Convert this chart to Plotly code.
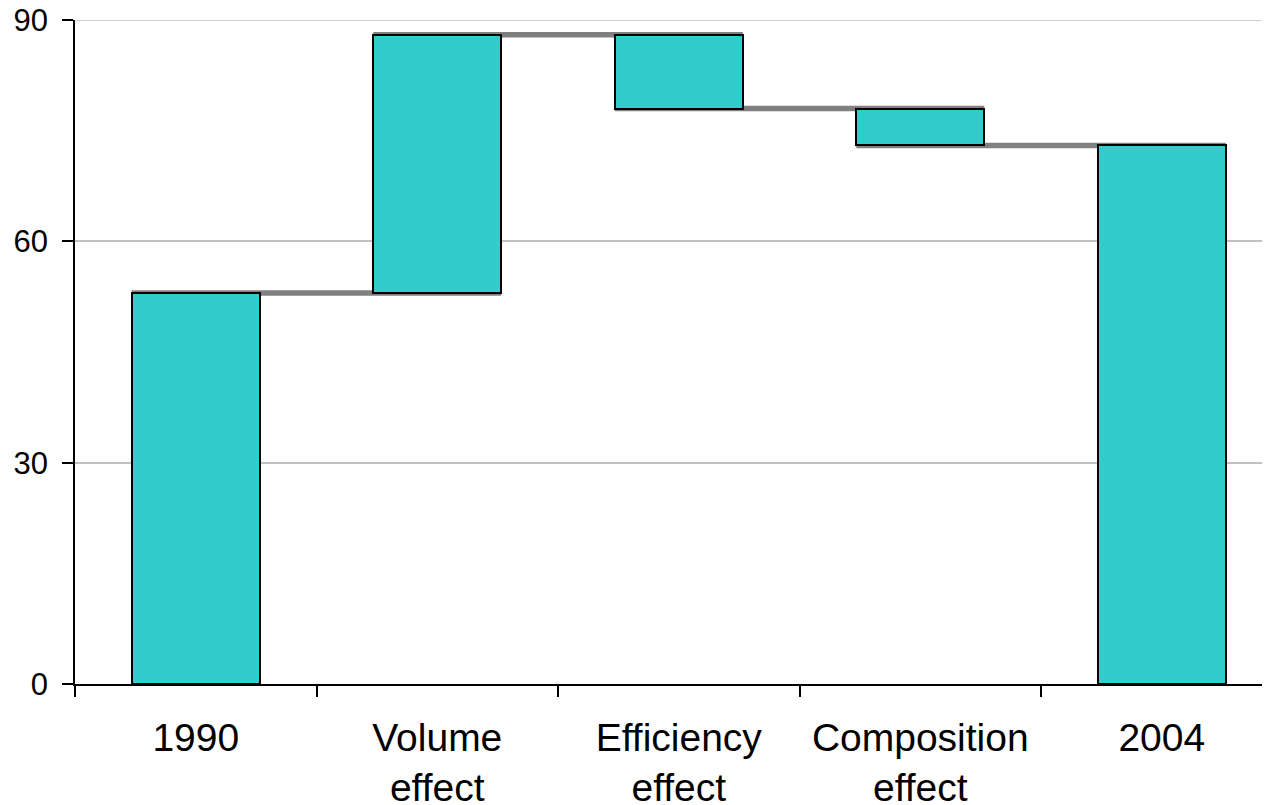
import plotly.graph_objects as go

categories = ["1990", "Volume effect", "Efficiency effect", "Composition effect", "2004"]
tick_labels = ["1990", "Volume<br>effect", "Efficiency<br>effect", "Composition<br>effect", "2004"]
values = [53, 35, -10, -5, 73]
measures = ["absolute", "relative", "relative", "relative", "total"]
y_ticks = [0, 30, 60, 90]

# compute bar bases / heights and running levels
bases, heights, levels = [], [], []
running = 0
for v, m in zip(values, measures):
    if m == "absolute" or m == "total":
        bases.append(0)
        heights.append(v)
        running = v
    else:
        start = running
        running = running + v
        bases.append(min(start, running))
        heights.append(abs(v))
    levels.append(running)

BAR_W = 0.53
FILL = "#33CCCC"
GRID = "#C0C0C0"

fig = go.Figure()
fig.add_trace(go.Bar(
    x=categories, y=heights, base=bases, width=BAR_W,
    marker=dict(color=FILL, line=dict(color="black", width=2)),
    showlegend=False, hoverinfo="skip",
))

# top gridline (plotly clips gridlines at the very end of the range)
fig.add_shape(
    type="line", xref="paper", yref="y", layer="below",
    x0=0, x1=1, y0=y_ticks[-1], y1=y_ticks[-1],
    line=dict(color=GRID, width=1.5),
)

# connectors: from left edge of bar i to right edge of bar i+1 at running level
for i in range(len(categories) - 1):
    fig.add_shape(
        type="line", xref="x", yref="y", layer="between",
        x0=i - BAR_W / 2, x1=i + 1 + BAR_W / 2,
        y0=levels[i], y1=levels[i],
        line=dict(color="#808080", width=5.5),
    )

FONT = "Liberation Sans, Arial, sans-serif"
fig.update_layout(
    width=1270, height=805,
    margin=dict(l=67, r=8, t=12, b=129),
    paper_bgcolor="white", plot_bgcolor="white",
    font=dict(family=FONT, color="black"),
    bargap=0,
    xaxis=dict(
        type="category", tickson="boundaries",
        tickmode="array", tickvals=categories, ticktext=tick_labels,
        range=[-0.5, 4.448], automargin=False,
        showline=True, linecolor="black", linewidth=1.5,
        ticks="outside", ticklen=11, tickwidth=1.5, tickcolor="black",
        tickfont=dict(size=39, family=FONT, color="black"),
        ticklabelstandoff=18, ticklabeloverflow="allow",
        showgrid=False, zeroline=False,
    ),
    yaxis=dict(
        range=[0, 90], tickmode="array", tickvals=y_ticks, automargin=False,
        showline=True, linecolor="black", linewidth=1.5,
        ticks="outside", ticklen=11, tickwidth=1.5, tickcolor="black",
        tickfont=dict(size=31, family=FONT, color="black"),
        ticklabelstandoff=8, ticklabeloverflow="allow",
        showgrid=True, gridcolor=GRID, gridwidth=1.5,
        zeroline=False,
    ),
)

fig.write_html("out.html")
